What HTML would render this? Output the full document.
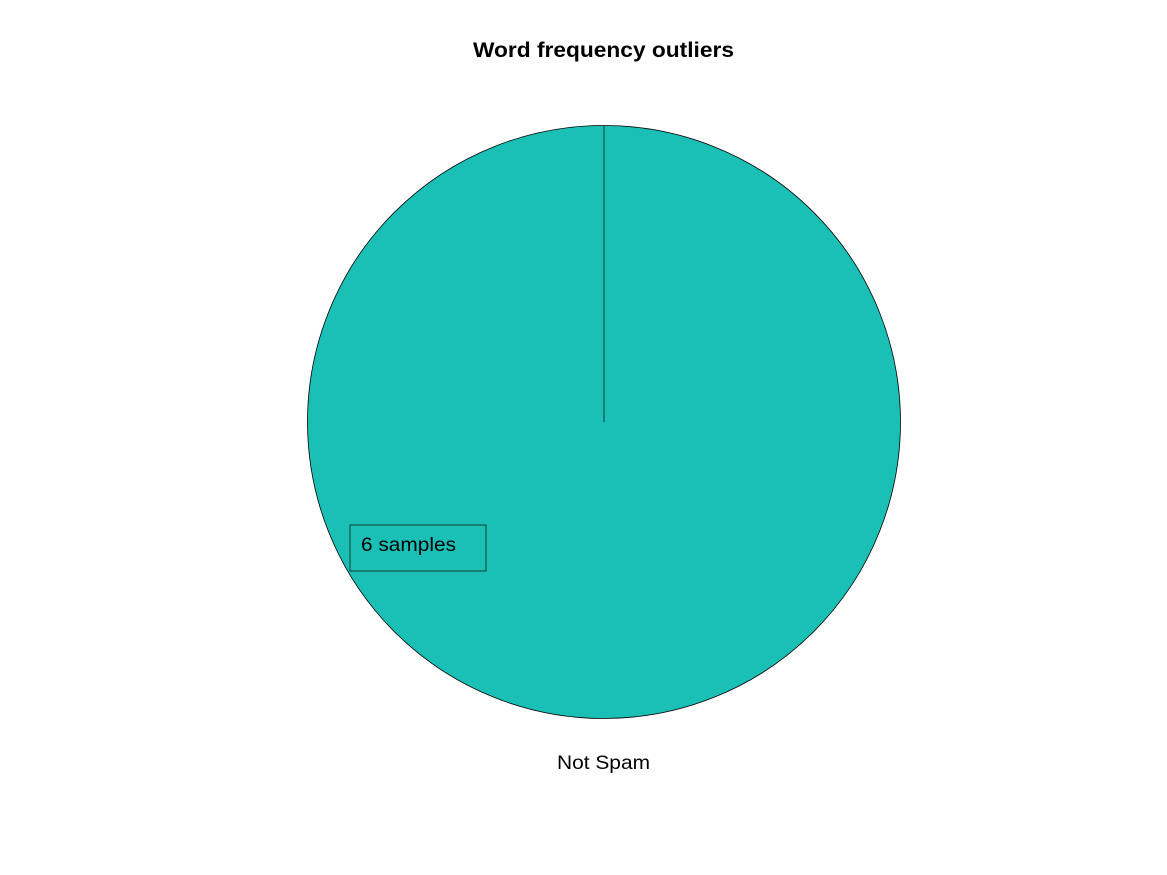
<!DOCTYPE html>
<html><head><meta charset="utf-8"><style>
html,body{margin:0;padding:0;background:#fff;}
svg{display:block;font-family:"Liberation Sans",Arial,sans-serif;}
</style></head><body>
<svg id="chart" width="1167" height="875" viewBox="0 0 1167 875">
<rect width="1167" height="875" fill="#fff"/>
<text x="473" y="57" font-size="21" font-weight="bold" textLength="261" lengthAdjust="spacingAndGlyphs">Word frequency outliers</text>
<g id="slices"></g>
<rect x="350" y="525" width="136" height="46" fill="none" stroke="#0d3b38" stroke-width="1"/>
<text x="361" y="551" font-size="19.5" textLength="95" lengthAdjust="spacingAndGlyphs">6 samples</text>
<text x="557" y="769" font-size="19.5" textLength="93" lengthAdjust="spacingAndGlyphs">Not Spam</text>
</svg>
<script>
const categories = ["Not Spam"];
const values = [6];
const colors = ["#1ac0b6"];
const cx = 604, cy = 422, r = 296.5;
const g = document.getElementById('slices');
const total = values.reduce((a,b)=>a+b,0);
let ang = 0;
values.forEach((v,i)=>{
  const frac = v/total;
  let el;
  if (frac >= 0.9999) {
    el = document.createElementNS('http://www.w3.org/2000/svg','circle');
    el.setAttribute('cx',cx); el.setAttribute('cy',cy); el.setAttribute('r',r);
    g.appendChild(el);
    el.setAttribute('fill',colors[i%colors.length]);
    el.setAttribute('stroke','#000'); el.setAttribute('stroke-width','0.8');
    const ln = document.createElementNS('http://www.w3.org/2000/svg','line');
    ln.setAttribute('x1',cx); ln.setAttribute('y1',cy); ln.setAttribute('x2',cx); ln.setAttribute('y2',cy-r);
    ln.setAttribute('stroke','#0d3b38'); ln.setAttribute('stroke-width','1');
    
    
    g.appendChild(ln);
  } else {
    const a0 = ang, a1 = ang + frac*2*Math.PI;
    const x0 = cx + r*Math.sin(a0), y0 = cy - r*Math.cos(a0);
    const x1 = cx + r*Math.sin(a1), y1 = cy - r*Math.cos(a1);
    el = document.createElementNS('http://www.w3.org/2000/svg','path');
    el.setAttribute('d',`M${cx},${cy} L${x0},${y0} A${r},${r} 0 ${frac>0.5?1:0} 1 ${x1},${y1} Z`);
    el.setAttribute('fill',colors[i%colors.length]);
    el.setAttribute('stroke','#000'); el.setAttribute('stroke-width','0.8');
    g.appendChild(el);
  }
  
  
  ang += frac*2*Math.PI;
});
</script>
</body></html>
